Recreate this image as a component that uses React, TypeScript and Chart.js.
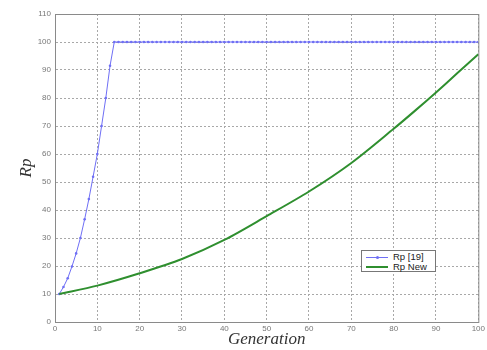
import React, { useEffect, useRef } from "react";
import { Chart, registerables } from "chart.js";

Chart.register(...registerables);

const blueGenerations = [1, 2, 3, 4, 5, 6, 7, 8, 9, 10, 11, 12, 13, 14, 15, 16, 17, 18, 19, 20, 21, 22, 23, 24, 25, 26, 27, 28, 29, 30, 31, 32, 33, 34, 35, 36, 37, 38, 39, 40, 41, 42, 43, 44, 45, 46, 47, 48, 49, 50, 51, 52, 53, 54, 55, 56, 57, 58, 59, 60, 61, 62, 63, 64, 65, 66, 67, 68, 69, 70, 71, 72, 73, 74, 75, 76, 77, 78, 79, 80, 81, 82, 83, 84, 85, 86, 87, 88, 89, 90, 91, 92, 93, 94, 95, 96, 97, 98, 99, 100];
const blueRising = [10, 12.5, 15.6, 19.8, 24.5, 30, 36.7, 43.9, 51.9, 60, 70, 80, 91.5, 100];
const bluePlateau = 100;
const greenGenerations = [1, 10, 20, 30, 40, 50, 60, 70, 80, 85, 90, 95, 100];
const greenValues = [10, 13, 17.4, 22.5, 29.3, 37.8, 46.6, 56.8, 69, 75.4, 82, 88.8, 95.6];
const xTicks = [0, 10, 20, 30, 40, 50, 60, 70, 80, 90, 100];
const yTicks = [0, 10, 20, 30, 40, 50, 60, 70, 80, 90, 100, 110];

const BLUE = "#6f6ff5";
const GREEN = "#2f8f2f";

export default function App() {
  const ref = useRef<HTMLCanvasElement>(null);
  useEffect(() => {
    if (!ref.current) return;
    const blueData = blueGenerations.map((g, i) => ({
      x: g,
      y: i < blueRising.length ? blueRising[i] : bluePlateau,
    }));
    const greenData = greenGenerations.map((g, i) => ({ x: g, y: greenValues[i] }));
    const boxPlugin = {
      id: "box",
      afterDraw(chart: any) {
        const { ctx, chartArea: a } = chart;
        ctx.save();
        ctx.strokeStyle = "#8a8a8a";
        ctx.lineWidth = 1;
        ctx.setLineDash([]);
        ctx.strokeRect(a.left + 0.5, a.top + 0.5, a.right - a.left, a.bottom - a.top);
        ctx.restore();
      },
    };
    const chart = new Chart(ref.current, {
      type: "scatter",
      data: {
        datasets: [
          {
            label: "Rp New",
            data: greenData,
            showLine: true,
            borderColor: GREEN,
            backgroundColor: GREEN,
            borderWidth: 2,
            pointRadius: 0,
            tension: 0.3,
          },
          {
            label: "Rp [19]",
            data: blueData,
            showLine: true,
            borderColor: BLUE,
            backgroundColor: BLUE,
            borderWidth: 1,
            pointRadius: 1.3,
            pointBorderWidth: 0,
            tension: 0,
          },
        ],
      },
      options: {
        animation: false,
        responsive: false,
        layout: { padding: { top: 14, right: 7, left: 0, bottom: 0 } },
        plugins: { legend: { display: false }, tooltip: { enabled: false } },
        scales: {
          x: {
            type: "linear",
            min: 0,
            max: 100,
            afterBuildTicks(scale: any) {
              scale.ticks = xTicks.map((v) => ({ value: v }));
            },
            afterFit(scale: any) {
              scale.height = 28;
            },
            ticks: {
              font: { family: "Arial, Liberation Sans", size: 8 },
              color: "#777",
              padding: 2,
              maxRotation: 0,
            },
            grid: {
              color: "#a8a8a8",
              drawTicks: false,
            },
            border: { display: true, color: "#8a8a8a", dash: [2, 2] } as any,
            title: {
              display: true,
              text: "Generation",
              font: { family: "Liberation Serif, Times New Roman, serif", size: 17, style: "italic" },
              color: "#333",
              padding: { top: 0, bottom: 0 },
            },
          },
          y: {
            type: "linear",
            min: 0,
            max: 110,
            afterBuildTicks(scale: any) {
              scale.ticks = yTicks.map((v) => ({ value: v }));
            },
            afterFit(scale: any) {
              scale.width = 55;
            },
            ticks: {
              font: { family: "Arial, Liberation Sans", size: 8 },
              color: "#777",
              padding: 4,
            },
            grid: {
              color: "#a8a8a8",
              drawTicks: false,
            },
            border: { display: true, color: "#8a8a8a", dash: [2, 2] } as any,
            title: {
              display: true,
              text: "Rp",
              font: { family: "Liberation Serif, Times New Roman, serif", size: 17, style: "italic" },
              color: "#333",
              padding: { top: 16, bottom: 0 },
            },
          },
        },
      } as any,
      plugins: [boxPlugin],
    });
    return () => chart.destroy();
  }, []);

  return (
    <div style={{ position: "fixed", left: 0, top: 0, width: 487, height: 350, background: "#fff" }}>
      <canvas ref={ref} width={487} height={350} style={{ width: 487, height: 350, display: "block" }} />
      <div
        style={{
          position: "absolute",
          left: 361,
          top: 250,
          width: 75,
          height: 22,
          border: "1px solid #777",
          background: "#fff",
          fontFamily: "Arial, Liberation Sans, sans-serif",
          fontSize: 9.5,
          color: "#222",
          boxSizing: "border-box",
          padding: "1px 0 0 4px",
          lineHeight: "10px",
        }}
      >
        <div style={{ display: "flex", alignItems: "center" }}>
          <span style={{ display: "inline-block", width: 22, height: 1, background: BLUE, marginRight: 5, position: "relative" }}>
            <span style={{ position: "absolute", left: 10, top: -1, width: 3, height: 3, borderRadius: 2, background: BLUE }} />
          </span>
          <span>Rp [19]</span>
        </div>
        <div style={{ display: "flex", alignItems: "center" }}>
          <span style={{ display: "inline-block", width: 22, height: 2, background: GREEN, marginRight: 5 }} />
          <span>Rp New</span>
        </div>
      </div>
    </div>
  );
}
